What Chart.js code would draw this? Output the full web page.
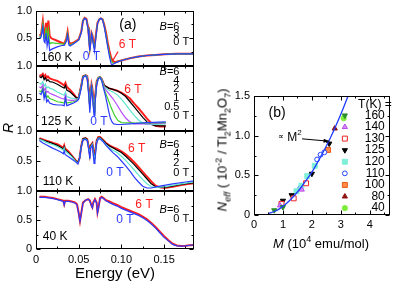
<!DOCTYPE html>
<html lang="en">
<head>
<meta charset="UTF-8">
<title>Reflectivity in field / Neff vs M</title>
<script src="https://cdn.jsdelivr.net/npm/chart.js"></script>
<style>
  html, body { margin: 0; padding: 0; background: #fff; }
  #wrap { position: relative; width: 395px; height: 281px; overflow: hidden; font-family: "Liberation Sans", Arial, sans-serif; color: #000; }
  #wrap canvas { position: absolute; left: 0; top: 0; }
  .lbl { position: absolute; white-space: nowrap; transform: translate(-50%, -50%); }
  .rot { transform: translate(-50%, -50%) rotate(-90deg); }
  sub, sup { font-size: 70%; line-height: 0; }
</style>
</head>
<body>
<div id="wrap">
  <canvas id="c160" width="395" height="281"></canvas>
  <canvas id="c125" width="395" height="281"></canvas>
  <canvas id="c110" width="395" height="281"></canvas>
  <canvas id="c40" width="395" height="281"></canvas>
  <canvas id="cNeff" width="395" height="281"></canvas>
  <div class="lbl rot" style="left:8px; top:128px; font-size:14px; font-style:italic;">R</div>
  <div class="lbl" style="left:115px; top:272px; font-size:15px;">Energy (eV)</div>
  <div class="lbl rot" style="left:222px; top:150px; font-size:13px;"><i>N<sub>eff</sub></i> ( 10<sup>-2</sup> / Tl<sub>2</sub>Mn<sub>2</sub>O<sub>7</sub>)</div>
  <div class="lbl" style="left:321px; top:243px; font-size:13px;"><i>M</i> (10<sup>4</sup> emu/mol)</div>
</div>
<script>
// ---- panel (a): reflectivity R vs energy (eV), [E, R] pairs ----
const r160_0T = [[0.004,0.50],[0.006,0.52],[0.008,0.70],[0.0095,0.44],[0.0105,0.42],[0.0118,0.60],[0.013,0.36],[0.0145,0.50],[0.016,0.28],[0.018,0.30],[0.024,0.34],[0.030,0.37],[0.033,0.37],[0.0355,0.44],[0.037,0.56],[0.0385,0.38],[0.040,0.36],[0.045,0.41],[0.050,0.47],[0.053,0.60],[0.055,0.81],[0.057,0.86],[0.059,0.84],[0.061,0.66],[0.062,0.45],[0.063,0.27],[0.064,0.42],[0.065,0.58],[0.066,0.52],[0.067,0.40],[0.0685,0.27],[0.070,0.50],[0.072,0.76],[0.074,0.84],[0.076,0.86],[0.078,0.83],[0.080,0.70],[0.082,0.52],[0.084,0.34],[0.086,0.17],[0.088,0.04],[0.089,0.02],[0.091,0.04],[0.095,0.07],[0.100,0.10],[0.110,0.14],[0.120,0.17],[0.130,0.19],[0.140,0.20],[0.150,0.21],[0.165,0.22],[0.185,0.22]];
const r160_3T = [[0.004,0.53],[0.006,0.55],[0.008,0.76],[0.0095,0.50],[0.0105,0.49],[0.0118,0.70],[0.013,0.46],[0.0145,0.66],[0.016,0.40],[0.018,0.42],[0.024,0.41],[0.030,0.40],[0.033,0.39],[0.0355,0.47],[0.037,0.59],[0.0385,0.41],[0.040,0.38],[0.045,0.42],[0.050,0.47],[0.053,0.61],[0.055,0.82],[0.057,0.86],[0.059,0.84],[0.061,0.68],[0.062,0.48],[0.063,0.30],[0.064,0.43],[0.065,0.59],[0.066,0.54],[0.067,0.43],[0.0685,0.31],[0.070,0.52],[0.072,0.77],[0.074,0.84],[0.076,0.86],[0.078,0.84],[0.080,0.72],[0.082,0.56],[0.084,0.38],[0.086,0.22],[0.088,0.10],[0.090,0.05],[0.092,0.05],[0.095,0.075],[0.100,0.10],[0.110,0.14],[0.120,0.17],[0.130,0.19],[0.140,0.20],[0.150,0.21],[0.165,0.22],[0.185,0.22]];
const r160_6T = [[0.004,0.55],[0.006,0.57],[0.008,0.81],[0.0095,0.56],[0.0105,0.55],[0.0118,0.78],[0.013,0.56],[0.0145,0.82],[0.016,0.54],[0.018,0.50],[0.024,0.46],[0.030,0.42],[0.033,0.40],[0.0355,0.50],[0.037,0.62],[0.0385,0.44],[0.040,0.40],[0.045,0.43],[0.050,0.48],[0.053,0.62],[0.055,0.82],[0.057,0.87],[0.059,0.85],[0.061,0.70],[0.062,0.52],[0.063,0.33],[0.064,0.45],[0.065,0.60],[0.066,0.56],[0.067,0.46],[0.0685,0.36],[0.070,0.55],[0.072,0.78],[0.074,0.84],[0.076,0.86],[0.078,0.84],[0.080,0.74],[0.082,0.60],[0.084,0.42],[0.086,0.27],[0.088,0.15],[0.090,0.09],[0.092,0.07],[0.095,0.08],[0.100,0.10],[0.110,0.14],[0.120,0.17],[0.130,0.19],[0.140,0.20],[0.150,0.21],[0.165,0.22],[0.185,0.22]];

const r125_0T = [[0.004,0.58],[0.006,0.56],[0.008,0.64],[0.0095,0.50],[0.011,0.58],[0.0125,0.45],[0.014,0.48],[0.016,0.43],[0.020,0.41],[0.025,0.40],[0.030,0.40],[0.033,0.39],[0.0345,0.50],[0.036,0.39],[0.040,0.41],[0.044,0.43],[0.048,0.46],[0.050,0.49],[0.053,0.66],[0.055,0.82],[0.058,0.85],[0.060,0.80],[0.062,0.50],[0.063,0.28],[0.064,0.50],[0.065,0.66],[0.066,0.55],[0.067,0.38],[0.068,0.24],[0.069,0.40],[0.071,0.70],[0.073,0.81],[0.075,0.82],[0.077,0.77],[0.079,0.66],[0.081,0.56],[0.083,0.44],[0.085,0.31],[0.087,0.20],[0.089,0.14],[0.091,0.11],[0.095,0.10],[0.100,0.10],[0.110,0.11],[0.130,0.13],[0.152,0.14]];
const r125_05T = [[0.004,0.62],[0.006,0.60],[0.008,0.66],[0.0095,0.55],[0.011,0.60],[0.0125,0.51],[0.014,0.54],[0.016,0.50],[0.020,0.48],[0.025,0.45],[0.030,0.44],[0.033,0.43],[0.0345,0.50],[0.036,0.43],[0.040,0.44],[0.044,0.45],[0.048,0.47],[0.050,0.50],[0.053,0.68],[0.055,0.83],[0.058,0.86],[0.060,0.82],[0.062,0.54],[0.063,0.34],[0.064,0.54],[0.065,0.68],[0.066,0.58],[0.067,0.42],[0.068,0.28],[0.069,0.42],[0.071,0.72],[0.073,0.82],[0.075,0.83],[0.077,0.78],[0.080,0.63],[0.084,0.50],[0.088,0.36],[0.092,0.24],[0.096,0.16],[0.100,0.13],[0.120,0.12],[0.152,0.13]];
const r125_1T = [[0.004,0.68],[0.006,0.66],[0.008,0.71],[0.0095,0.62],[0.011,0.66],[0.0125,0.59],[0.014,0.61],[0.016,0.58],[0.020,0.56],[0.025,0.53],[0.030,0.50],[0.033,0.49],[0.0345,0.55],[0.036,0.48],[0.040,0.47],[0.044,0.47],[0.048,0.48],[0.050,0.50],[0.053,0.68],[0.055,0.83],[0.058,0.86],[0.060,0.83],[0.062,0.56],[0.063,0.36],[0.064,0.55],[0.065,0.69],[0.066,0.60],[0.067,0.44],[0.068,0.30],[0.069,0.44],[0.071,0.73],[0.073,0.82],[0.075,0.83],[0.077,0.79],[0.080,0.66],[0.085,0.58],[0.090,0.50],[0.095,0.40],[0.100,0.29],[0.105,0.20],[0.110,0.14],[0.115,0.11],[0.130,0.11],[0.152,0.12]];
const r125_2T = [[0.004,0.74],[0.006,0.72],[0.008,0.76],[0.0095,0.69],[0.011,0.72],[0.0125,0.66],[0.014,0.68],[0.016,0.66],[0.020,0.64],[0.025,0.60],[0.030,0.57],[0.033,0.55],[0.0345,0.60],[0.036,0.53],[0.040,0.51],[0.044,0.50],[0.048,0.49],[0.050,0.51],[0.053,0.69],[0.055,0.83],[0.058,0.86],[0.060,0.83],[0.062,0.58],[0.063,0.38],[0.064,0.56],[0.065,0.70],[0.066,0.62],[0.067,0.46],[0.068,0.32],[0.069,0.46],[0.071,0.74],[0.073,0.82],[0.075,0.83],[0.077,0.80],[0.080,0.68],[0.085,0.63],[0.090,0.60],[0.095,0.56],[0.100,0.49],[0.105,0.41],[0.110,0.32],[0.115,0.24],[0.120,0.17],[0.125,0.12],[0.130,0.10],[0.140,0.10],[0.152,0.11]];
const r125_4T = [[0.004,0.84],[0.006,0.82],[0.008,0.85],[0.0095,0.79],[0.011,0.82],[0.0125,0.77],[0.014,0.79],[0.016,0.76],[0.020,0.75],[0.025,0.72],[0.030,0.68],[0.033,0.66],[0.0345,0.70],[0.036,0.63],[0.040,0.60],[0.044,0.55],[0.048,0.50],[0.050,0.52],[0.053,0.70],[0.055,0.84],[0.058,0.86],[0.060,0.84],[0.062,0.60],[0.063,0.40],[0.064,0.58],[0.065,0.71],[0.066,0.64],[0.067,0.48],[0.068,0.34],[0.069,0.48],[0.071,0.75],[0.073,0.82],[0.075,0.83],[0.077,0.80],[0.080,0.70],[0.085,0.66],[0.090,0.64],[0.095,0.62],[0.100,0.58],[0.105,0.53],[0.110,0.45],[0.115,0.37],[0.120,0.29],[0.125,0.21],[0.130,0.14],[0.135,0.10],[0.140,0.08],[0.145,0.08],[0.152,0.08]];
const r125_6T = [[0.004,0.86],[0.006,0.85],[0.008,0.88],[0.0095,0.83],[0.011,0.86],[0.0125,0.82],[0.014,0.84],[0.016,0.81],[0.020,0.79],[0.025,0.77],[0.030,0.73],[0.033,0.70],[0.0345,0.74],[0.036,0.68],[0.040,0.63],[0.044,0.57],[0.048,0.50],[0.050,0.52],[0.053,0.70],[0.055,0.84],[0.058,0.86],[0.060,0.84],[0.062,0.62],[0.063,0.42],[0.064,0.60],[0.065,0.72],[0.066,0.66],[0.067,0.50],[0.068,0.36],[0.069,0.50],[0.071,0.76],[0.073,0.82],[0.075,0.83],[0.077,0.80],[0.080,0.70],[0.085,0.66],[0.090,0.64],[0.095,0.62],[0.100,0.59],[0.105,0.55],[0.110,0.50],[0.115,0.42],[0.120,0.35],[0.125,0.27],[0.130,0.19],[0.135,0.12],[0.140,0.08],[0.145,0.07],[0.152,0.07]];

const r110_0T = [[0.004,0.84],[0.008,0.80],[0.012,0.77],[0.016,0.74],[0.020,0.71],[0.025,0.68],[0.030,0.64],[0.032,0.62],[0.033,0.67],[0.034,0.61],[0.038,0.57],[0.042,0.53],[0.046,0.49],[0.049,0.45],[0.051,0.53],[0.053,0.73],[0.055,0.85],[0.058,0.86],[0.060,0.84],[0.062,0.66],[0.063,0.54],[0.064,0.72],[0.066,0.76],[0.067,0.62],[0.068,0.46],[0.069,0.52],[0.071,0.80],[0.073,0.87],[0.075,0.87],[0.078,0.83],[0.082,0.76],[0.086,0.70],[0.090,0.64],[0.095,0.58],[0.100,0.50],[0.105,0.42],[0.110,0.33],[0.115,0.23],[0.120,0.15],[0.125,0.08],[0.130,0.05],[0.135,0.05],[0.145,0.08],[0.160,0.12],[0.175,0.15],[0.185,0.17]];
const r110_2T = [[0.004,0.86],[0.008,0.84],[0.012,0.81],[0.016,0.79],[0.020,0.77],[0.025,0.74],[0.030,0.70],[0.032,0.68],[0.033,0.72],[0.034,0.67],[0.038,0.62],[0.042,0.57],[0.046,0.50],[0.049,0.46],[0.051,0.54],[0.053,0.74],[0.055,0.86],[0.058,0.87],[0.060,0.85],[0.062,0.70],[0.063,0.59],[0.064,0.74],[0.066,0.78],[0.067,0.67],[0.068,0.52],[0.069,0.58],[0.071,0.82],[0.073,0.88],[0.075,0.88],[0.078,0.84],[0.082,0.77],[0.086,0.72],[0.090,0.68],[0.095,0.64],[0.100,0.58],[0.105,0.51],[0.110,0.43],[0.115,0.35],[0.120,0.27],[0.125,0.19],[0.130,0.12],[0.135,0.07],[0.140,0.06],[0.150,0.07],[0.170,0.12],[0.185,0.15]];
const r110_4T = [[0.004,0.87],[0.008,0.85],[0.012,0.83],[0.016,0.81],[0.020,0.79],[0.025,0.76],[0.030,0.72],[0.032,0.70],[0.033,0.74],[0.034,0.69],[0.038,0.64],[0.042,0.58],[0.046,0.51],[0.049,0.47],[0.051,0.55],[0.053,0.75],[0.055,0.87],[0.058,0.88],[0.060,0.86],[0.062,0.71],[0.063,0.60],[0.064,0.75],[0.066,0.79],[0.067,0.69],[0.068,0.54],[0.069,0.60],[0.071,0.83],[0.073,0.89],[0.075,0.89],[0.078,0.85],[0.082,0.79],[0.086,0.75],[0.090,0.72],[0.095,0.68],[0.100,0.64],[0.105,0.58],[0.110,0.51],[0.115,0.44],[0.120,0.36],[0.125,0.28],[0.130,0.20],[0.135,0.12],[0.140,0.07],[0.145,0.06],[0.155,0.07],[0.170,0.11],[0.185,0.14]];
const r110_6T = [[0.004,0.88],[0.008,0.86],[0.012,0.84],[0.016,0.82],[0.020,0.80],[0.025,0.78],[0.030,0.74],[0.032,0.72],[0.033,0.76],[0.034,0.71],[0.038,0.66],[0.042,0.59],[0.046,0.52],[0.049,0.47],[0.051,0.55],[0.053,0.75],[0.055,0.87],[0.058,0.88],[0.060,0.86],[0.062,0.72],[0.063,0.62],[0.064,0.76],[0.066,0.80],[0.067,0.70],[0.068,0.56],[0.069,0.62],[0.071,0.84],[0.073,0.90],[0.075,0.90],[0.078,0.86],[0.082,0.80],[0.086,0.76],[0.090,0.73],[0.095,0.70],[0.100,0.66],[0.105,0.61],[0.110,0.55],[0.115,0.48],[0.120,0.40],[0.125,0.32],[0.130,0.24],[0.135,0.16],[0.140,0.09],[0.145,0.06],[0.150,0.05],[0.160,0.07],[0.170,0.10],[0.180,0.12],[0.185,0.13]];

const r40_0T = [[0.004,0.89],[0.010,0.89],[0.015,0.88],[0.020,0.87],[0.025,0.85],[0.030,0.83],[0.032,0.82],[0.033,0.76],[0.034,0.82],[0.038,0.82],[0.042,0.81],[0.046,0.79],[0.048,0.76],[0.050,0.61],[0.0515,0.48],[0.053,0.61],[0.055,0.79],[0.058,0.84],[0.061,0.86],[0.063,0.83],[0.065,0.74],[0.066,0.71],[0.067,0.79],[0.069,0.85],[0.071,0.79],[0.072,0.62],[0.073,0.69],[0.075,0.87],[0.077,0.89],[0.079,0.87],[0.082,0.83],[0.086,0.80],[0.090,0.77],[0.095,0.74],[0.100,0.70],[0.105,0.67],[0.110,0.64],[0.115,0.61],[0.120,0.58],[0.125,0.54],[0.130,0.49],[0.135,0.43],[0.140,0.36],[0.145,0.28],[0.150,0.20],[0.155,0.14],[0.160,0.08],[0.165,0.055],[0.170,0.05],[0.175,0.055],[0.180,0.065],[0.185,0.07]];
const r40_6T = [[0.004,0.90],[0.010,0.90],[0.015,0.89],[0.020,0.88],[0.025,0.86],[0.030,0.84],[0.032,0.83],[0.033,0.77],[0.034,0.83],[0.038,0.83],[0.042,0.82],[0.046,0.80],[0.048,0.77],[0.050,0.62],[0.0515,0.48],[0.053,0.62],[0.055,0.80],[0.058,0.84],[0.061,0.86],[0.063,0.84],[0.065,0.75],[0.066,0.72],[0.067,0.80],[0.069,0.86],[0.071,0.80],[0.072,0.63],[0.073,0.70],[0.075,0.88],[0.077,0.90],[0.079,0.88],[0.082,0.84],[0.086,0.82],[0.090,0.79],[0.095,0.76],[0.100,0.72],[0.105,0.69],[0.110,0.66],[0.115,0.63],[0.120,0.60],[0.125,0.56],[0.130,0.51],[0.135,0.45],[0.140,0.38],[0.145,0.30],[0.150,0.22],[0.155,0.15],[0.160,0.09],[0.165,0.06],[0.170,0.05],[0.175,0.055],[0.180,0.065],[0.185,0.07]];

const energyTicks = [0, 0.05, 0.10, 0.15];
const reflTicks = [0, 0.5, 1.0];

// ---- panel (b): Neff vs M, [M, Neff] pairs ----
const tempLabels = ['160', '140', '130', '125', '120', '110', '100', '80', '40'];
const neff160 = [[0.7,0.06],[1.0,0.10]];
const neff140 = [[0.9,0.12],[1.65,0.32]];
const neff130 = [[0.95,0.14],[1.37,0.21],[1.8,0.40]];
const neff125 = [[1.0,0.18],[1.3,0.25],[2.0,0.52],[2.6,0.90]];
const neff120 = [[1.47,0.30],[1.64,0.37],[1.84,0.49],[2.1,0.62]];
const neff110 = [[1.6,0.34],[2.18,0.70],[2.3,0.76],[2.43,0.79]];
const neff100 = [[2.56,0.82]];
const neff80 = [[2.79,1.09]];
const neff40 = [[3.1,1.22]];
const fitM = [0.5, 0.75, 1.0, 1.25, 1.5, 1.75, 2.0, 2.25, 2.5, 2.75, 3.0, 3.25];
const fitN = [0.02, 0.05, 0.11, 0.19, 0.29, 0.41, 0.54, 0.70, 0.87, 1.06, 1.27, 1.50];

const BLUE = '#2b3bff', RED = '#ff1f1f', GREEN = '#3fd12b', VIOLET = '#b84dff', AQUA = '#5fe6d0';
const F = (px, st) => (st ? st + ' ' : '') + px + 'px "Liberation Sans", Arial, sans-serif';
const xy = arr => arr.map(p => ({ x: p[0], y: p[1] }));

const framePlugin = {
  id: 'frame',
  afterDatasetsDraw(chart, args, opts) {
    const ctx = chart.ctx, a = chart.chartArea, xs = chart.scales.x, ys = chart.scales.y;
    const L = Math.round(a.left) + 0.5, R = Math.round(a.right) - 0.5;
    const T = Math.round(a.top) + 0.5, B = Math.round(a.bottom) - 0.5;
    ctx.save();
    ctx.strokeStyle = '#000';
    ctx.lineWidth = 1;
    ctx.beginPath();
    const vx = (v, len) => {
      const p = Math.round(xs.getPixelForValue(v)) + 0.5;
      ctx.moveTo(p, B); ctx.lineTo(p, B - len);
      ctx.moveTo(p, T); ctx.lineTo(p, T + len);
    };
    const vy = (v, len) => {
      const p = Math.round(ys.getPixelForValue(v)) + 0.5;
      ctx.moveTo(L, p); ctx.lineTo(L + len, p);
      ctx.moveTo(R, p); ctx.lineTo(R - len, p);
    };
    xs.ticks.forEach(t => vx(t.value, 4));
    ys.ticks.forEach(t => vy(t.value, 4));
    (opts.xMinor || []).forEach(v => vx(v, 2));
    (opts.yMinor || []).forEach(v => vy(v, 2));
    ctx.stroke();
    ctx.strokeRect(L, T, R - L, B - T);
    ctx.restore();
  }
};

function drawParts(ctx, parts, x, y, align, color) {
  let w = 0;
  parts.forEach(p => { ctx.font = p.font; w += ctx.measureText(p.s).width; });
  let cx = align === 'right' ? x - w : align === 'center' ? x - w / 2 : x;
  ctx.fillStyle = color || '#000';
  parts.forEach(p => {
    ctx.font = p.font;
    ctx.fillText(p.s, cx, y + (p.dy || 0));
    cx += ctx.measureText(p.s).width;
  });
}

const notesPlugin = {
  id: 'notes',
  afterDraw(chart, args, opts) {
    const ctx = chart.ctx, xs = chart.scales.x, ys = chart.scales.y;
    ctx.save();
    ctx.textAlign = 'left';
    ctx.textBaseline = 'middle';
    (opts.lines || []).forEach(l => {
      const x1 = xs.getPixelForValue(l.from[0]), y1 = ys.getPixelForValue(l.from[1]);
      const x2 = xs.getPixelForValue(l.to[0]), y2 = ys.getPixelForValue(l.to[1]);
      ctx.strokeStyle = l.color; ctx.fillStyle = l.color; ctx.lineWidth = l.width || 1;
      ctx.beginPath(); ctx.moveTo(x1, y1); ctx.lineTo(x2, y2); ctx.stroke();
      if (l.head) {
        const ang = Math.atan2(y2 - y1, x2 - x1);
        ctx.beginPath();
        ctx.moveTo(x2, y2);
        ctx.lineTo(x2 - 6 * Math.cos(ang - 0.35), y2 - 6 * Math.sin(ang - 0.35));
        ctx.lineTo(x2 - 6 * Math.cos(ang + 0.35), y2 - 6 * Math.sin(ang + 0.35));
        ctx.closePath(); ctx.fill();
      }
    });
    (opts.texts || []).forEach(t => {
      drawParts(ctx, t.parts, xs.getPixelForValue(t.x), ys.getPixelForValue(t.y), t.align, t.color);
    });
    (opts.markers || []).forEach(m => {
      ctx.fillStyle = m.fill; ctx.strokeStyle = m.stroke; ctx.lineWidth = 1;
      Chart.helpers.drawPoint(ctx, { pointStyle: m.style, radius: m.radius, rotation: m.rotation || 0, borderWidth: 1 },
        xs.getPixelForValue(m.x), ys.getPixelForValue(m.y));
    });
    ctx.restore();
  }
};

const t = (x, y, s, font, align, color) => ({ x, y, align, color, parts: [{ s, font }] });

// field list on the right side of each spectrum panel
function fieldList(values, rows) {
  const col = 0.168, out = [];
  values.forEach((v, i) => {
    if (i === 0) out.push({ x: col, y: rows[i], align: 'right', parts: [{ s: 'B', font: F(11, 'italic') }, { s: '=' + v, font: F(11) }] });
    else out.push(t(col, rows[i], v, F(11), 'right'));
  });
  out.push(t(col + 0.0035, rows[rows.length - 1], 'T', F(11), 'left'));
  return out;
}

function spectrum(id, top, bottom, curves, texts, lines, showX) {
  const xh = showX ? 22 : 0;
  return new Chart(document.getElementById(id), {
    type: 'line',
    data: {
      datasets: curves.map(c => ({
        data: xy(c.data), borderColor: c.color, borderWidth: c.width || 1.2,
        pointRadius: 0, tension: 0, fill: false
      }))
    },
    options: {
      responsive: false, animation: false, events: [],
      layout: { autoPadding: false, padding: { left: 0, top: top, right: 395 - 194, bottom: 281 - bottom - xh } },
      plugins: {
        legend: { display: false }, tooltip: { enabled: false },
        frame: { xMinor: [0.025, 0.075, 0.125, 0.175], yMinor: [0.25, 0.75] },
        notes: { texts: texts, lines: lines || [] }
      },
      scales: {
        x: {
          type: 'linear', min: 0, max: 0.185,
          afterFit: s => { s.height = xh; },
          afterBuildTicks: s => { s.ticks = energyTicks.map(v => ({ value: v })); },
          grid: { display: false, drawTicks: false }, border: { display: false },
          ticks: { display: showX, padding: 4, color: '#000', font: { family: '"Liberation Sans", Arial, sans-serif', size: 11 },
            callback: v => v === 0 ? '0' : v.toFixed(2) }
        },
        y: {
          type: 'linear', min: 0, max: 1,
          afterFit: s => { s.width = 36; },
          afterBuildTicks: s => { s.ticks = reflTicks.map(v => ({ value: v })); },
          grid: { display: false, drawTicks: false }, border: { display: false },
          ticks: { padding: 4, color: '#000', font: { family: '"Liberation Sans", Arial, sans-serif', size: 11 },
            callback: v => v === 0 ? (showX ? '0' : '') : v.toFixed(1) }
        }
      }
    },
    plugins: [framePlugin, notesPlugin]
  });
}

spectrum('c160', 5, 66,
  [{ data: r160_0T, color: BLUE }, { data: r160_3T, color: GREEN }, { data: r160_6T, color: RED, width: 2 }],
  [t(0.006, 0.15, '160 K', F(12)), t(0.1075, 0.74, '(a)', F(14), 'center'),
   t(0.065, 0.16, '0 T', F(12), 'center', BLUE), t(0.107, 0.38, '6 T', F(12), 'center', RED)]
    .concat(fieldList(['6', '3', '0'], [0.71, 0.57, 0.43])),
  [{ from: [0.096, 0.26], to: [0.0896, 0.09], color: RED, width: 1.2 }], false);

spectrum('c125', 66, 131,
  [{ data: r125_0T, color: BLUE }, { data: r125_05T, color: GREEN }, { data: r125_1T, color: VIOLET },
   { data: r125_2T, color: AQUA }, { data: r125_4T, color: '#000' }, { data: r125_6T, color: RED, width: 2 }],
  [t(0.006, 0.14, '125 K', F(12)), t(0.0738, 0.15, '0 T', F(12), 'center', BLUE), t(0.1136, 0.63, '6 T', F(12), 'center', RED)]
    .concat(fieldList(['6', '4', '2', '1', '0.5', '0'], [0.91, 0.775, 0.64, 0.505, 0.37, 0.235])),
  [], false);

spectrum('c110', 131, 191,
  [{ data: r110_0T, color: BLUE }, { data: r110_2T, color: AQUA }, { data: r110_4T, color: '#000' }, { data: r110_6T, color: RED, width: 2 }],
  [t(0.008, 0.15, '110 K', F(12)), t(0.0925, 0.30, '0 T', F(12), 'center', BLUE), t(0.118, 0.71, '6 T', F(12), 'center', RED)]
    .concat(fieldList(['6', '4', '2', '0'], [0.77, 0.62, 0.47, 0.305])),
  [], false);

spectrum('c40', 191, 249,
  [{ data: r40_0T, color: BLUE }, { data: r40_6T, color: RED, width: 2 }],
  [t(0.008, 0.21, '40 K', F(12)), t(0.104, 0.50, '0 T', F(12), 'center', BLUE), t(0.1265, 0.76, '6 T', F(12), 'center', RED)]
    .concat(fieldList(['6', '0'], [0.67, 0.51])),
  [], true);

// ---- panel (b) ----
const neffStyles = [
  { data: neff160, style: 'triangle', rotation: 180, fill: '#2a8f2a', stroke: '#2a8f2a', radius: 3 },
  { data: neff140, style: 'triangle', rotation: 0, fill: '#d98cff', stroke: '#b44ae8', radius: 3 },
  { data: neff130, style: 'rect', rotation: 0, fill: '#ffffff', stroke: '#ee2222', radius: 3.5 },
  { data: neff125, style: 'triangle', rotation: 180, fill: '#000000', stroke: '#000000', radius: 3 },
  { data: neff120, style: 'rect', rotation: 0, fill: '#7fefd8', stroke: '#7fefd8', radius: 3.5 },
  { data: neff110, style: 'circle', rotation: 0, fill: '#ffffff', stroke: '#2244ff', radius: 2.4 },
  { data: neff100, style: 'rect', rotation: 0, fill: '#ff8a4a', stroke: '#e35a14', radius: 3.5 },
  { data: neff80, style: 'triangle', rotation: 0, fill: '#8e1414', stroke: '#8e1414', radius: 3 },
  { data: neff40, style: 'circle', rotation: 0, fill: '#7ded3a', stroke: '#7ded3a', radius: 2.6 }
];

const legendTexts = [t(4.76, 1.387, 'T(K) =', F(12), 'right')];
const legendMarkers = [];
tempLabels.forEach((lab, i) => {
  const n = 1.255 - i * 0.146;
  legendTexts.push(t(4.52, n, lab, F(12), 'right'));
  const s = neffStyles[i];
  legendMarkers.push({ x: 3.14, y: n, style: s.style, rotation: s.rotation, fill: s.fill, stroke: s.stroke, radius: s.radius });
});

new Chart(document.getElementById('cNeff'), {
  type: 'scatter',
  data: {
    datasets: [{
      data: fitM.map((m, i) => ({ x: m, y: fitN[i] })), showLine: true, borderColor: '#1f3cff', borderWidth: 1.3,
      pointRadius: 0, tension: 0.4
    }].concat(neffStyles.map(s => ({
      data: xy(s.data), pointStyle: s.style, rotation: s.rotation, radius: s.radius,
      backgroundColor: s.fill, borderColor: s.stroke, borderWidth: 1
    })))
  },
  options: {
    responsive: false, animation: false, events: [],
    layout: { autoPadding: false, padding: { left: 230, top: 96, right: 5, bottom: 48 } },
    plugins: {
      legend: { display: false }, tooltip: { enabled: false },
      frame: { xMinor: [0.5, 1.5, 2.5, 3.5, 4.5], yMinor: [0.25, 0.75, 1.25] },
      notes: {
        texts: [t(0.8, 1.29, '(b)', F(14), 'center'),
          { x: 0.83, y: 0.98, align: 'left', parts: [{ s: '\u221d', font: F(8) }, { s: ' M', font: F(12) }, { s: '2', font: F(8), dy: -4 }] }]
          .concat(legendTexts),
        lines: [{ from: [1.66, 0.96], to: [2.6, 0.93], color: '#000', width: 1, head: true }],
        markers: legendMarkers
      }
    },
    scales: {
      x: {
        type: 'linear', min: 0, max: 4.7,
        afterFit: s => { s.height = 18; },
        afterBuildTicks: s => { s.ticks = [0, 1, 2, 3, 4].map(v => ({ value: v })); },
        grid: { display: false, drawTicks: false }, border: { display: false },
        ticks: { padding: 3, color: '#000', font: { family: '"Liberation Sans", Arial, sans-serif', size: 11 } }
      },
      y: {
        type: 'linear', min: 0, max: 1.5,
        afterFit: s => { s.width = 24; },
        afterBuildTicks: s => { s.ticks = [0, 0.5, 1.0, 1.5].map(v => ({ value: v })); },
        grid: { display: false, drawTicks: false }, border: { display: false },
        ticks: { padding: 4, color: '#000', font: { family: '"Liberation Sans", Arial, sans-serif', size: 11 },
          callback: v => v === 0 ? '0' : v.toFixed(1) }
      }
    }
  },
  plugins: [framePlugin, notesPlugin]
});
</script>
</body>
</html>
